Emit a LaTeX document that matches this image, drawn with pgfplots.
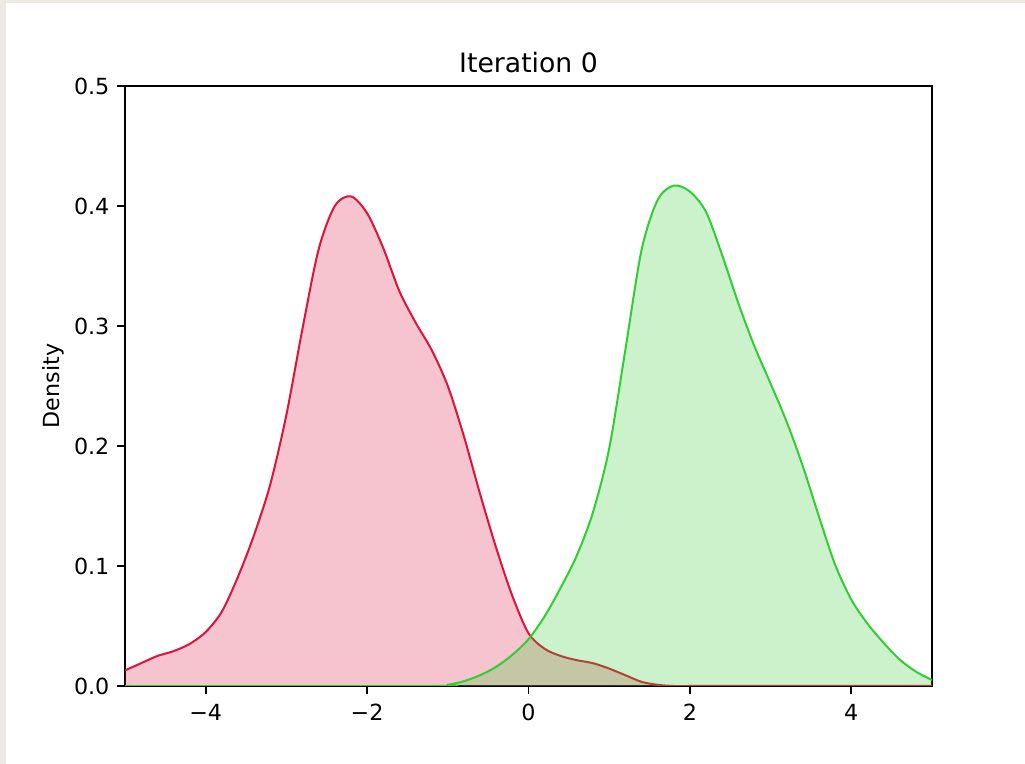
\documentclass[border=0pt]{standalone}
\usepackage{pgfplots}
\pgfplotsset{compat=1.18}
\usepackage{fontspec}
\setmainfont{DejaVu Sans}
\definecolor{crim}{RGB}{220,20,60}
\definecolor{lime}{RGB}{50,205,50}
\definecolor{frame}{RGB}{237,233,229}
\pgfplotstableread{
x y
-5.0 0.013
-4.8 0.019
-4.6 0.025
-4.4 0.029
-4.2 0.035
-4.0 0.045
-3.8 0.062
-3.6 0.091
-3.4 0.126
-3.2 0.168
-3.0 0.226
-2.8 0.298
-2.6 0.364
-2.4 0.400
-2.2 0.408
-2.0 0.394
-1.8 0.365
-1.6 0.329
-1.4 0.303
-1.2 0.280
-1.0 0.250
-0.8 0.208
-0.6 0.160
-0.4 0.115
-0.2 0.075
0.0 0.044
0.2 0.031
0.4 0.025
0.6 0.0215
0.8 0.019
1.0 0.0145
1.2 0.009
1.4 0.0035
1.6 0.001
1.8 0.0
2.0 0.0
3.0 0.0
5.0 0.0
}\red
\pgfplotstableread{
x y
-5.0 0.0
-1.2 0.0
-1.0 0.001
-0.8 0.004
-0.6 0.009
-0.4 0.016
-0.2 0.026
0.0 0.039
0.2 0.058
0.4 0.082
0.6 0.109
0.8 0.145
1.0 0.198
1.2 0.280
1.4 0.363
1.6 0.405
1.8 0.417
2.0 0.412
2.2 0.395
2.4 0.359
2.6 0.319
2.8 0.283
3.0 0.252
3.2 0.220
3.4 0.183
3.6 0.141
3.8 0.101
4.0 0.072
4.2 0.052
4.4 0.036
4.6 0.022
4.8 0.012
5.0 0.005
}\green
\begin{document}
\begin{tikzpicture}[x=0.45pt,y=0.45pt]
\fill[frame] (0,0) rectangle (1025,764);
\fill[white] (6,0) rectangle (1025,761);
\begin{axis}[
  at={(56.25pt,35.1pt)}, anchor=south west,
  scale only axis, width=363.15pt, height=270pt,
  xmin=-5, xmax=5, ymin=0, ymax=0.5,
  axis line style={line width=0.8pt},
  tick align=outside, tick style={line width=0.8pt, black},
  major tick length=3.5pt,
  xtick={-4,-2,0,2,4}, xticklabels={−4,−2,0,2,4},
  ytick={0,0.1,0.2,0.3,0.4,0.5}, yticklabels={0.0,0.1,0.2,0.3,0.4,0.5},
  xtick pos=bottom, ytick pos=left,
  ticklabel style={font=\fontsize{10}{12}\selectfont},
  xticklabel style={yshift=-1pt},
  yticklabel style={xshift=0pt},
  title={Iteration 0},
  title style={font=\fontsize{12}{14}\selectfont, at={(axis description cs:0.5,1)}, anchor=base, yshift=0pt},
  ylabel={Density},
  ylabel style={font=\fontsize{10}{12}\selectfont, at={(axis description cs:-0.0892,0.5)}, anchor=center, rotate=0},
  clip=true,
]
\addplot[draw=none, fill=crim, fill opacity=0.25, smooth, tension=0.5] table {\red} \closedcycle;
\addplot[crim, line width=0.9pt, smooth, tension=0.5] table {\red};
\addplot[draw=none, fill=lime, fill opacity=0.25, smooth, tension=0.5] table {\green} \closedcycle;
\addplot[lime, line width=0.9pt, smooth, tension=0.5] table {\green};
\end{axis}
\end{tikzpicture}
\end{document}
